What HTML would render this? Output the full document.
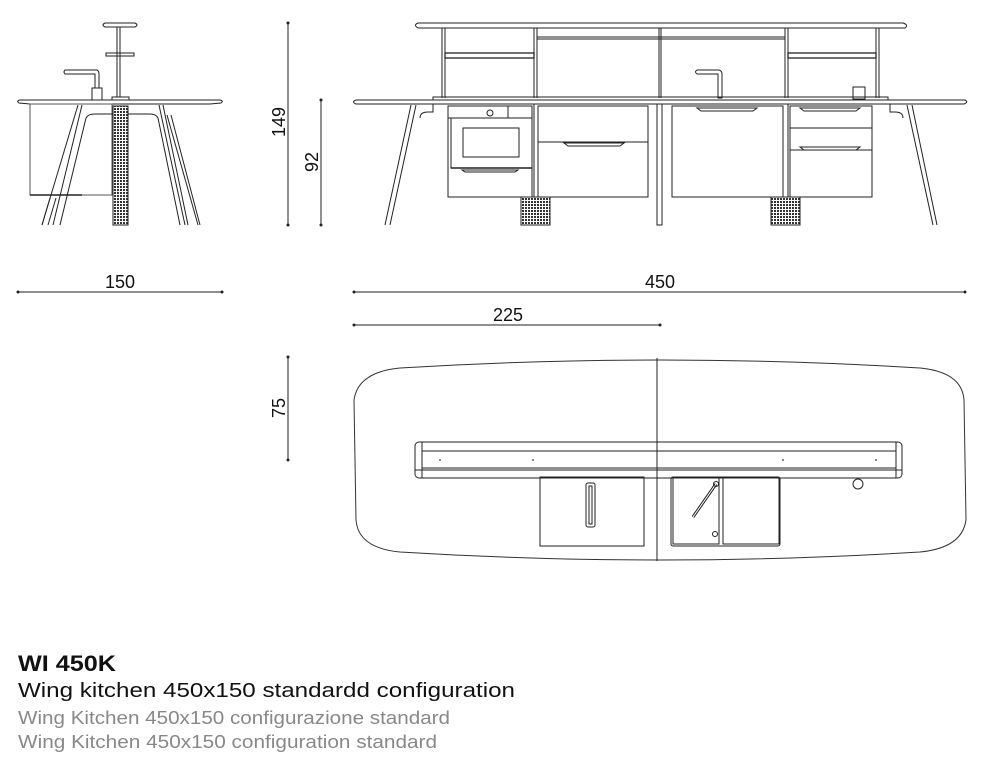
<!DOCTYPE html>
<html><head><meta charset="utf-8"><style>
html,body{margin:0;padding:0;background:#fff;width:1000px;height:764px;overflow:hidden}
svg{display:block}
text{font-family:"Liberation Sans",sans-serif}
</style></head><body>
<svg width="1000" height="764" viewBox="0 0 1000 764" xmlns="http://www.w3.org/2000/svg">
<defs>
<pattern id="mesh" width="3" height="3" patternUnits="userSpaceOnUse"><rect width="3" height="3" fill="#fff"/><rect width="2" height="2" fill="#333"/></pattern>
</defs>
<g fill="none" stroke="#222" stroke-width="1">
<!-- SIDE VIEW -->
<path d="M20 100 L220 100 Q224 101 221 103 L210 104 L30 104 L19 103 Q16 101 20 100Z"/>
<rect x="30" y="104" width="82" height="91" stroke="#555"/>
<line x1="30" y1="195" x2="82" y2="195" stroke-width="1.5"/>
<line x1="78" y1="105" x2="42" y2="225"/><line x1="82" y1="105" x2="53" y2="225"/>
<line x1="50" y1="198" x2="42" y2="225"/><line x1="56" y1="198" x2="48" y2="225"/>
<path d="M86 118 Q88 114 95 114 L150 114 Q156 114 158 118"/>
<line x1="159" y1="105" x2="185" y2="225"/><line x1="163" y1="105" x2="188" y2="225"/>
<line x1="167" y1="115" x2="198" y2="225"/><line x1="171" y1="115" x2="200" y2="225"/>
<line x1="86" y1="118" x2="60" y2="225"/>
<line x1="158" y1="118" x2="180" y2="225"/>
<rect x="113" y="106" width="15" height="119" fill="url(#mesh)"/>
<rect x="112" y="97" width="17" height="3"/>
<line x1="117" y1="27" x2="117" y2="97"/><line x1="120" y1="27" x2="120" y2="97"/>
<path d="M105 23 L135 23 Q139 25 135 27 L105 27 Q101 25 105 23Z"/>
<rect x="106" y="53" width="28" height="3"/>
<path d="M65 70 L97 70 Q99 71 99 74 L99 88 L95 88 L95 74 L65 74 Q63 72 65 70Z"/>
<rect x="92" y="88" width="10" height="12"/>

<!-- FRONT VIEW -->
<path d="M418 23 L903 23 Q909 25 905 28 L418 28 Q413 25 418 23Z"/>
<g>
<line x1="442" y1="28" x2="442" y2="98"/><line x1="445" y1="28" x2="445" y2="98"/>
<line x1="534" y1="28" x2="534" y2="98"/><line x1="537" y1="28" x2="537" y2="98"/>
<line x1="659" y1="28" x2="659" y2="98"/><line x1="661" y1="28" x2="661" y2="98"/>
<line x1="785" y1="28" x2="785" y2="98"/><line x1="788" y1="28" x2="788" y2="98"/>
<line x1="876" y1="28" x2="876" y2="98"/><line x1="879" y1="28" x2="879" y2="98"/>
</g>
<rect x="445" y="53" width="89" height="5" stroke-width="1.3"/>
<rect x="537" y="37" width="248" height="2"/>
<rect x="788" y="53" width="88" height="5" stroke-width="1.3"/>
<rect x="433" y="97" width="455" height="3"/>
<path d="M356 100 L965 100 Q969 102 964 104 L356 104 Q351 102 356 100Z"/>
<path d="M697 70 L719 70 Q722 71 722 74 L722 98 L718 98 L718 74 L697 74 Q694 72 697 70Z"/>
<rect x="853" y="87" width="12" height="12"/>
<!-- oven -->
<rect x="448" y="106" width="84" height="91"/>
<line x1="448" y1="118" x2="532" y2="118"/>
<line x1="508" y1="106" x2="508" y2="118"/>
<circle cx="490" cy="113" r="3"/>
<rect x="451" y="118" width="81" height="50"/>
<line x1="451" y1="168" x2="532" y2="168" stroke-width="1.5"/>
<rect x="463" y="128" width="56" height="29"/>
<path d="M462 170 L518 170 L515 172 L465 172Z"/>
<!-- mid-left -->
<rect x="538" y="106" width="110" height="91"/>
<line x1="538" y1="142" x2="648" y2="142"/>
<path d="M564 143 L624 143 L620 146 L568 146Z"/>
<!-- center post -->
<rect x="657" y="104" width="5" height="121"/>
<!-- mid-right -->
<rect x="672" y="106" width="111" height="91"/>
<path d="M697 108 L757 108 L753 111 L701 111Z"/>
<!-- right -->
<rect x="790" y="106" width="82" height="91"/>
<line x1="790" y1="128" x2="872" y2="128"/>
<line x1="790" y1="150" x2="872" y2="150"/>
<path d="M800 108 L860 108 L856 111 L804 111Z"/>
<path d="M800 147 L860 147 L856 150 L804 150Z"/>
<line x1="534" y1="104" x2="534" y2="197"/><line x1="788" y1="104" x2="788" y2="197"/>
<!-- mesh columns -->
<rect x="521" y="197" width="29" height="28" fill="url(#mesh)"/>
<rect x="771" y="197" width="29" height="28" fill="url(#mesh)"/>
<!-- legs -->
<line x1="411" y1="105" x2="385" y2="225"/><line x1="416" y1="105" x2="390" y2="225"/>
<path d="M420 118 Q420 112 428 112 L433 112 L433 104"/>
<line x1="907" y1="105" x2="933" y2="225"/><line x1="912" y1="105" x2="937" y2="225"/>
<path d="M903 118 Q903 112 895 112 L890 112 L890 104"/>

<!-- PLAN VIEW -->
<path d="M400 368 Q660 352 920 368 Q962 372 964 400 L966 520 Q962 548 920 552 Q660 568 400 552 Q358 548 356 520 L354 400 Q358 372 400 368Z" stroke="#333"/>
<line x1="657" y1="358" x2="657" y2="561"/>
<rect x="415" y="442" width="487" height="36" rx="4"/>
<rect x="422" y="451" width="474" height="17"/>
<line x1="415" y1="470" x2="902" y2="470"/>
<line x1="422" y1="442" x2="422" y2="478"/><line x1="896" y1="442" x2="896" y2="478"/>
<rect x="540" y="477" width="104" height="69"/>
<rect x="586" y="483" width="9" height="44" rx="2"/>
<rect x="589" y="486" width="3" height="38"/>
<rect x="671" y="477" width="109" height="69" rx="2"/>
<rect x="673" y="478" width="46" height="66"/>
<rect x="723" y="478" width="56" height="66"/>
<circle cx="715" cy="534" r="2.5"/>
<line x1="716" y1="484" x2="693" y2="517" stroke-width="3"/>
<line x1="716" y1="484" x2="693" y2="517" stroke="#fff" stroke-width="1"/>
<circle cx="716" cy="484" r="2.5"/>
<circle cx="858" cy="484" r="5"/>
</g>
<g fill="#333">
<circle cx="440" cy="460" r="0.9"/><circle cx="533" cy="460" r="0.9"/><circle cx="783" cy="460" r="0.9"/><circle cx="876" cy="460" r="0.9"/>
</g>

<!-- DIMENSIONS -->
<g stroke="#222" stroke-width="1">
<line x1="288" y1="23" x2="288" y2="225"/>
<line x1="321" y1="100" x2="321" y2="225"/>
<line x1="288" y1="357" x2="288" y2="460"/>
<line x1="18" y1="292" x2="222" y2="292"/>
<line x1="354" y1="292" x2="965" y2="292"/>
<line x1="354" y1="325" x2="660" y2="325"/>
</g>
<g fill="#222">
<circle cx="288" cy="23" r="1.5"/><circle cx="288" cy="225" r="1.5"/>
<circle cx="321" cy="100" r="1.5"/><circle cx="321" cy="225" r="1.5"/>
<circle cx="288" cy="357" r="1.5"/><circle cx="288" cy="460" r="1.5"/>
<circle cx="18" cy="292" r="1.5"/><circle cx="222" cy="292" r="1.5"/>
<circle cx="354" cy="292" r="1.5"/><circle cx="965" cy="292" r="1.5"/>
<circle cx="354" cy="325" r="1.5"/><circle cx="660" cy="325" r="1.5"/>
</g>
<g fill="#111" font-size="18">
<text x="120" y="288" text-anchor="middle">150</text>
<text x="660" y="288" text-anchor="middle">450</text>
<text x="508" y="321" text-anchor="middle">225</text>
<text transform="translate(285,122) rotate(-90)" text-anchor="middle">149</text>
<text transform="translate(318,162) rotate(-90)" text-anchor="middle">92</text>
<text transform="translate(285,408) rotate(-90)" text-anchor="middle">75</text>
</g>

<!-- TITLE -->
<text x="18" y="671" font-size="22" font-weight="bold" fill="#111" textLength="98" lengthAdjust="spacingAndGlyphs">WI 450K</text>
<text x="18" y="697" font-size="20" fill="#111" textLength="497" lengthAdjust="spacingAndGlyphs">Wing kitchen 450x150 standardd configuration</text>
<text x="18" y="724" font-size="18" fill="#888" textLength="432" lengthAdjust="spacingAndGlyphs">Wing Kitchen 450x150 configurazione standard</text>
<text x="18" y="748" font-size="18" fill="#888" textLength="419" lengthAdjust="spacingAndGlyphs">Wing Kitchen 450x150 configuration standard</text>
</svg>
</body></html>
